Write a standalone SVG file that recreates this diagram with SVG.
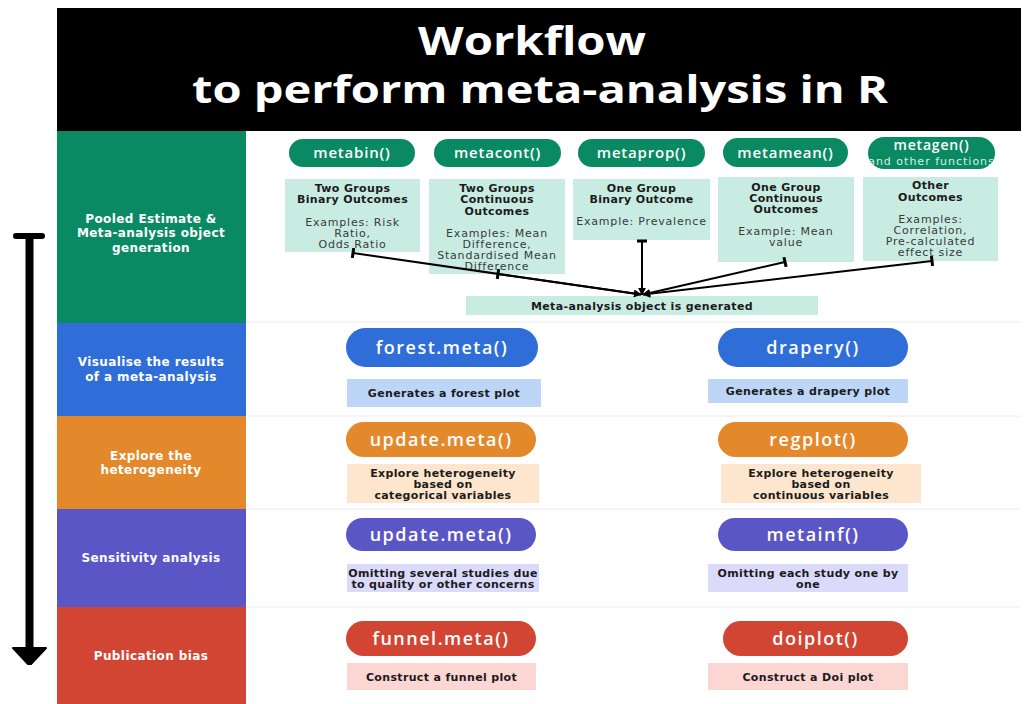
<svg xmlns="http://www.w3.org/2000/svg" width="1026" height="704" viewBox="0 0 1026 704">
  <style>
    .title { font-family: "Open Sans", "Liberation Sans", sans-serif; font-weight: 700; fill: #ffffff; text-anchor: middle; }
    .stage { font-family: "DejaVu Sans", Verdana, sans-serif; font-weight: 700; font-size: 12px; letter-spacing: 0.4px; fill: #ffffff; text-anchor: middle; }
    .fn { font-family: "Open Sans", "Liberation Sans", sans-serif; font-weight: 600; fill: #ffffff; text-anchor: middle; }
    .fn-top { font-size: 15px; letter-spacing: 0.8px; }
    .fn-gen { font-size: 14px; letter-spacing: 0.8px; }
    .fn-big { font-size: 18px; letter-spacing: 1.5px; }
    .sub { font-family: "DejaVu Sans", Verdana, sans-serif; font-size: 11px; letter-spacing: 1px; fill: #d5efe6; text-anchor: middle; }
    .hd { font-family: "DejaVu Sans", Verdana, sans-serif; font-weight: 700; font-size: 11px; letter-spacing: 0.35px; fill: #1b1b1b; text-anchor: middle; }
    .tx { font-family: "DejaVu Sans", Verdana, sans-serif; font-size: 11px; letter-spacing: 0.8px; fill: #3a3a3a; text-anchor: middle; }
    .green { fill: #0a8a63; }
    .blue { fill: #2f6ed9; }
    .orange { fill: #e3892c; }
    .purple { fill: #5b56c6; }
    .red { fill: #d34533; }
    .mint { fill: #c9ece2; }
    .sky { fill: #bdd6f8; }
    .peach { fill: #fde6cd; }
    .lilac { fill: #dcdafa; }
    .rose { fill: #fbd6d3; }
    .link { fill: none; stroke: #000000; stroke-width: 2; }
    .sep { stroke: #ececec; stroke-width: 1; }
  </style>
  <defs>
    <marker id="tee" markerUnits="userSpaceOnUse" viewBox="0 0 4 10" refX="2" refY="5" markerWidth="4" markerHeight="10" orient="auto">
      <rect x="0.5" y="0" width="3" height="10" fill="#000000"/>
    </marker>
    <marker id="tip" markerUnits="userSpaceOnUse" viewBox="0 0 10 10" refX="9" refY="5" markerWidth="8" markerHeight="8" orient="auto">
      <path d="M0,0 L10,5 L0,10 z" fill="#000000"/>
    </marker>
    <clipPath id="genClip">
      <rect x="868" y="137" width="127" height="32" rx="16"/>
    </clipPath>
  </defs>

  <rect x="0" y="0" width="1026" height="704" fill="#ffffff"/>

  <!-- header -->
  <g id="header">
    <rect x="57" y="8" width="964" height="123" fill="#000000"/>
    <text class="title" x="532" y="55" font-size="39" textLength="228" lengthAdjust="spacingAndGlyphs">Workflow</text>
    <text class="title" x="540" y="103" font-size="38" textLength="696" lengthAdjust="spacingAndGlyphs">to perform meta-analysis in R</text>
  </g>

  <!-- faint row separators on the right panel -->
  <g id="grid">
    <line class="sep" x1="246" y1="322" x2="1020" y2="322"/>
    <line class="sep" x1="246" y1="416" x2="1020" y2="416"/>
    <line class="sep" x1="246" y1="509" x2="1020" y2="509"/>
    <line class="sep" x1="246" y1="607" x2="1020" y2="607"/>
  </g>

  <!-- stage column -->
  <g id="stage-pooled">
    <rect class="green" x="57" y="131" width="189" height="192"/>
    <text class="stage" x="151" y="223">Pooled Estimate &amp;</text>
    <text class="stage" x="151" y="237">Meta-analysis object</text>
    <text class="stage" x="151" y="252">generation</text>
  </g>
  <g id="stage-visualise">
    <rect class="blue" x="57" y="323" width="189" height="93"/>
    <text class="stage" x="151" y="366">Visualise the results</text>
    <text class="stage" x="151" y="381">of a meta-analysis</text>
  </g>
  <g id="stage-heterogeneity">
    <rect class="orange" x="57" y="416" width="189" height="93"/>
    <text class="stage" x="151" y="460">Explore the</text>
    <text class="stage" x="151" y="474">heterogeneity</text>
  </g>
  <g id="stage-sensitivity">
    <rect class="purple" x="57" y="509" width="189" height="98"/>
    <text class="stage" x="151" y="562">Sensitivity analysis</text>
  </g>
  <g id="stage-bias">
    <rect class="red" x="57" y="607" width="189" height="97"/>
    <text class="stage" x="151" y="660">Publication bias</text>
  </g>

  <!-- timeline arrow -->
  <g id="timeline">
    <rect x="13" y="233" width="32" height="6" rx="3" fill="#000000"/>
    <rect x="25.5" y="236" width="8" height="414" fill="#000000"/>
    <path d="M13,648 L46,648 L31,664 L28,664 z" fill="#000000" stroke="#000000" stroke-width="2" stroke-linejoin="round"/>
  </g>

  <!-- pooled estimate functions -->
  <g id="metabin">
    <rect class="green" x="289" y="139" width="126" height="28" rx="14"/>
    <text class="fn fn-top" x="352" y="158">metabin()</text>
    <rect class="mint" x="285" y="179" width="135" height="73"/>
    <text class="hd" x="352.5" y="192">Two Groups</text>
    <text class="hd" x="352.5" y="203">Binary Outcomes</text>
    <text class="tx" x="352.5" y="226">Examples: Risk</text>
    <text class="tx" x="352.5" y="237">Ratio,</text>
    <text class="tx" x="352.5" y="248">Odds Ratio</text>
  </g>
  <g id="metacont">
    <rect class="green" x="434" y="139" width="127" height="28" rx="14"/>
    <text class="fn fn-top" x="497.5" y="158">metacont()</text>
    <rect class="mint" x="429" y="179" width="136" height="95"/>
    <text class="hd" x="497" y="192">Two Groups</text>
    <text class="hd" x="497" y="203">Continuous</text>
    <text class="hd" x="497" y="215">Outcomes</text>
    <text class="tx" x="497" y="237">Examples: Mean</text>
    <text class="tx" x="497" y="248">Difference,</text>
    <text class="tx" x="497" y="259">Standardised Mean</text>
    <text class="tx" x="497" y="270">Difference</text>
  </g>
  <g id="metaprop">
    <rect class="green" x="578" y="139" width="127" height="28" rx="14"/>
    <text class="fn fn-top" x="641.5" y="158">metaprop()</text>
    <rect class="mint" x="573" y="179" width="137" height="61"/>
    <text class="hd" x="641.5" y="192">One Group</text>
    <text class="hd" x="641.5" y="203">Binary Outcome</text>
    <text class="tx" x="641.5" y="225">Example: Prevalence</text>
  </g>
  <g id="metamean">
    <rect class="green" x="723" y="138" width="125" height="29" rx="14.5"/>
    <text class="fn fn-top" x="785.5" y="157.5">metamean()</text>
    <rect class="mint" x="718" y="177" width="136" height="85"/>
    <text class="hd" x="786" y="191">One Group</text>
    <text class="hd" x="786" y="202">Continuous</text>
    <text class="hd" x="786" y="213">Outcomes</text>
    <text class="tx" x="786" y="235">Example: Mean</text>
    <text class="tx" x="786" y="246">value</text>
  </g>
  <g id="metagen">
    <rect class="green" x="868" y="137" width="127" height="32" rx="16"/>
    <text class="fn fn-gen" x="931.5" y="150">metagen()</text>
    <text class="sub" x="931.5" y="165" clip-path="url(#genClip)">and other functions</text>
    <rect class="mint" x="863" y="177" width="135" height="84"/>
    <text class="hd" x="930.5" y="189">Other</text>
    <text class="hd" x="930.5" y="201">Outcomes</text>
    <text class="tx" x="930.5" y="223">Examples:</text>
    <text class="tx" x="930.5" y="234">Correlation,</text>
    <text class="tx" x="930.5" y="245">Pre-calculated</text>
    <text class="tx" x="930.5" y="256">effect size</text>
  </g>
  <g id="meta-object">
    <rect class="mint" x="466" y="296" width="352" height="19"/>
    <text class="hd" x="642" y="309.5">Meta-analysis object is generated</text>
  </g>

  <!-- connectors into the meta-analysis object -->
  <g id="connectors">
    <line class="link" x1="353" y1="253" x2="641" y2="294.5" marker-start="url(#tee)" marker-end="url(#tip)"/>
    <line class="link" x1="498" y1="274" x2="641" y2="294.5" marker-start="url(#tee)"/>
    <line class="link" x1="642" y1="241" x2="642" y2="295" marker-start="url(#tee)" marker-end="url(#tip)"/>
    <line class="link" x1="785" y1="262" x2="643" y2="294.5" marker-start="url(#tee)" marker-end="url(#tip)"/>
    <line class="link" x1="932" y1="261" x2="643" y2="294.5" marker-start="url(#tee)" marker-end="url(#tip)"/>
  </g>

  <!-- visualise -->
  <g id="forest-meta">
    <rect class="blue" x="346" y="328" width="192" height="39" rx="19.5"/>
    <text class="fn fn-big" x="442" y="354">forest.meta()</text>
    <rect class="sky" x="347" y="379" width="194" height="28"/>
    <text class="hd" x="444" y="397">Generates a forest plot</text>
  </g>
  <g id="drapery">
    <rect class="blue" x="718" y="328" width="190" height="39" rx="19.5"/>
    <text class="fn fn-big" x="813" y="354">drapery()</text>
    <rect class="sky" x="708" y="379" width="200" height="24"/>
    <text class="hd" x="808" y="395">Generates a drapery plot</text>
  </g>

  <!-- heterogeneity -->
  <g id="update-meta-subgroup">
    <rect class="orange" x="346" y="422" width="190" height="35" rx="17.5"/>
    <text class="fn fn-big" x="441" y="446">update.meta()</text>
    <rect class="peach" x="347" y="464" width="192" height="39"/>
    <text class="hd" x="443" y="477">Explore heterogeneity</text>
    <text class="hd" x="443" y="488">based on</text>
    <text class="hd" x="443" y="499">categorical variables</text>
  </g>
  <g id="regplot">
    <rect class="orange" x="718" y="422" width="190" height="35" rx="17.5"/>
    <text class="fn fn-big" x="813" y="446">regplot()</text>
    <rect class="peach" x="721" y="464" width="200" height="39"/>
    <text class="hd" x="821" y="477">Explore heterogeneity</text>
    <text class="hd" x="821" y="488">based on</text>
    <text class="hd" x="821" y="499">continuous variables</text>
  </g>

  <!-- sensitivity -->
  <g id="update-meta-omit">
    <rect class="purple" x="346" y="518" width="190" height="33" rx="16.5"/>
    <text class="fn fn-big" x="441" y="540.5">update.meta()</text>
    <rect class="lilac" x="347" y="564" width="192" height="28"/>
    <text class="hd" x="443" y="577">Omitting several studies due</text>
    <text class="hd" x="443" y="588">to quality or other concerns</text>
  </g>
  <g id="metainf">
    <rect class="purple" x="718" y="518" width="190" height="33" rx="16.5"/>
    <text class="fn fn-big" x="813" y="540.5">metainf()</text>
    <rect class="lilac" x="708" y="564" width="200" height="28"/>
    <text class="hd" x="808" y="577">Omitting each study one by</text>
    <text class="hd" x="808" y="588">one</text>
  </g>

  <!-- publication bias -->
  <g id="funnel-meta">
    <rect class="red" x="346" y="621" width="190" height="35" rx="17.5"/>
    <text class="fn fn-big" x="441" y="644.5">funnel.meta()</text>
    <rect class="rose" x="347" y="663" width="189" height="27"/>
    <text class="hd" x="441.5" y="680.5">Construct a funnel plot</text>
  </g>
  <g id="doiplot">
    <rect class="red" x="723" y="621" width="185" height="35" rx="17.5"/>
    <text class="fn fn-big" x="815.5" y="644.5">doiplot()</text>
    <rect class="rose" x="708" y="663" width="200" height="27"/>
    <text class="hd" x="808" y="680.5">Construct a Doi plot</text>
  </g>
</svg>
